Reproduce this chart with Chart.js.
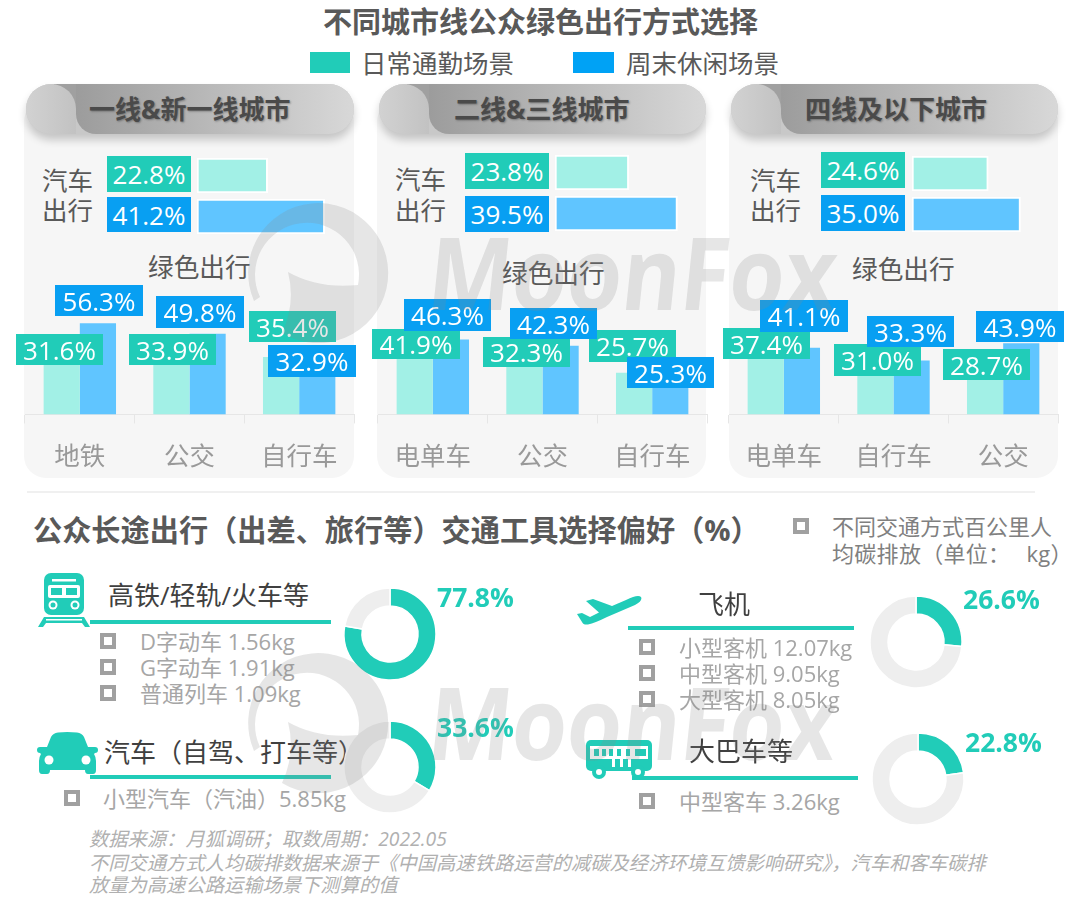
<!DOCTYPE html>
<html lang="zh">
<head>
<meta charset="utf-8">
<title>不同城市线公众绿色出行方式选择</title>
<script src="https://cdn.jsdelivr.net/npm/chart.js@4/dist/chart.umd.min.js"></script>
<style>
  html, body { margin: 0; padding: 0; background: #fff; }
  #page { position: relative; width: 1080px; height: 898px; overflow: hidden; background: #fff;
          font-family: 'Open Sans', 'Noto Sans CJK SC', sans-serif; }
  #page > * { position: absolute; }
  .t { white-space: nowrap; transform: translateY(-50%); line-height: 1.2; }
  .panel { background: #f6f6f6; border-radius: 22px; }
  .box { color: #fff; text-align: center; font-size: 26px; display: flex; align-items: center; justify-content: center; }
  .bullet { box-sizing: border-box; width: 16px; height: 16px; border: 4px solid #a0a0a0; transform: translateY(-50%); }
  .pill { overflow: hidden; border-radius: 25px; background: #c8c8c8; box-shadow: 0 6px 8px rgba(0,0,0,.2); }
  .pill div { position: absolute; }
  canvas { position: absolute; }
</style>
</head>
<body>
<div id="page"></div>
<script>
// ── DATA ──────────────────────────────────────────────────────────────────
const legendNames = ['日常通勤场景', '周末休闲场景'];
const cityTiers   = ['一线&新一线城市', '二线&三线城市', '四线及以下城市'];

const carCommute = [22.8, 23.8, 24.6];
const carWeekend = [41.2, 39.5, 35.0];

const greenCats1    = ['地铁', '公交', '自行车'];
const greenCommute1 = [31.6, 33.9, 35.4];
const greenWeekend1 = [56.3, 49.8, 32.9];

const greenCats2    = ['电单车', '公交', '自行车'];
const greenCommute2 = [41.9, 32.3, 25.7];
const greenWeekend2 = [46.3, 42.3, 25.3];

const greenCats3    = ['电单车', '自行车', '公交'];
const greenCommute3 = [37.4, 31.0, 28.7];
const greenWeekend3 = [41.1, 33.3, 43.9];

const longTripModes  = ['高铁/轻轨/火车等', '汽车（自驾、打车等）', '飞机', '大巴车等'];
const longTripShares = [77.8, 33.6, 26.6, 22.8];
const carbonTrain = ['D字动车 1.56kg', 'G字动车 1.91kg', '普通列车 1.09kg'];
const carbonCar   = ['小型汽车（汽油）5.85kg'];
const carbonPlane = ['小型客机 12.07kg', '中型客机 9.05kg', '大型客机 8.05kg'];
const carbonBus   = ['中型客车 3.26kg'];

// ── COLOURS ───────────────────────────────────────────────────────────────
const TEAL = '#21ccb8', BLUE = '#089ff2', TEAL_LIGHT = '#a2f0e6', BLUE_LIGHT = '#60c5ff', TRACK = '#eeeeee';

const page = document.getElementById('page');

function add(tag, cls, css, text) {
  const e = document.createElement(tag);
  if (cls) e.className = cls;
  e.style.cssText = css;
  if (text !== undefined) e.textContent = text;
  page.appendChild(e);
  return e;
}
function label(text, x, y, size, color, extra) {
  return add('div', 't', `left:${x}px;top:${y}px;font-size:${size}px;color:${color};${extra || ''}`, text);
}
function rect(x0, y0, x1, y1, color) {
  return add('div', '', `left:${x0}px;top:${y0}px;width:${x1 - x0}px;height:${y1 - y0}px;background:${color}`);
}
function valueBox(value, [x0, y0, x1, y1], color) {
  add('div', 'box', `left:${x0}px;top:${y0}px;width:${x1 - x0}px;height:${y1 - y0}px;background:${color}`, value.toFixed(1) + '%');
}
function bullet(x, y) { add('div', 'bullet', `left:${x}px;top:${y}px`); }
function canvasAt(x, y, w, h) {
  const c = document.createElement('canvas');
  c.width = w; c.height = h;
  c.style.cssText = `left:${x}px;top:${y}px;width:${w}px;height:${h}px`;
  page.appendChild(c);
  return c;
}

// ── HEADINGS ──────────────────────────────────────────────────────────────
label('不同城市线公众绿色出行方式选择', 323, 22, 29, '#595959', 'font-weight:700');
rect(310, 52, 350, 73, TEAL);
label(legendNames[0], 361, 63, 25.5, '#595959');
rect(573, 52, 614, 73, '#00a2f5');
label(legendNames[1], 626, 63, 25.5, '#595959');

// ── CITY PANELS ───────────────────────────────────────────────────────────
const PANELS = [
  { x: 24, w: 330, headTextX: 89, carX: 42, carY: [180, 210], greenX: 148, greenY: 268,
    barX: 199, barTop: 155, axisX: 25,
    boxes: { car: [[107,156,191,192],[107,197,191,232]],
             commute: [[16,334,103,365],[129,334,216,365],[249,311,336,342]],
             weekend: [[55,285,143,316],[156,296,244,328],[268,345,356,377]] } },
  { x: 377, w: 329, headTextX: 454, carX: 395, carY: [179, 210], greenX: 502, greenY: 274,
    barX: 557, barTop: 152, axisX: 378,
    boxes: { car: [[465,153,549,189],[465,196,549,232]],
             commute: [[372,329,460,359],[483,337,570,367],[589,330,676,362]],
             weekend: [[404,299,491,331],[510,308,597,339],[627,357,714,388]] } },
  { x: 729, w: 329, headTextX: 805, carX: 750, carY: [180, 210], greenX: 852, greenY: 270,
    barX: 914, barTop: 153, axisX: 729,
    boxes: { car: [[821,152,905,188],[821,195,905,231]],
             commute: [[723,328,810,359],[834,344,921,376],[943,349,1030,380]],
             weekend: [[760,300,848,332],[867,316,954,347],[976,311,1064,342]] } },
];
const GREEN = [
  [greenCats1, greenCommute1, greenWeekend1],
  [greenCats2, greenCommute2, greenWeekend2],
  [greenCats3, greenCommute3, greenWeekend3],
];

function renderCarChart(p, i) {
  new Chart(canvasAt(p.barX - 2, p.barTop, 155, 82), {
    type: 'bar',
    data: {
      labels: ['日常通勤', '周末休闲'],
      datasets: [{
        data: [carCommute[i], carWeekend[i]],
        backgroundColor: [TEAL_LIGHT, BLUE_LIGHT],
        borderColor: '#fff', borderWidth: 2, borderSkipped: false, barThickness: 35,
      }]
    },
    options: {
      indexAxis: 'y', responsive: false, animation: false,
      plugins: { legend: { display: false }, tooltip: { enabled: false } },
      scales: { x: { display: false, min: 0, max: 50 }, y: { display: false } }
    }
  });
}

function renderGreenChart(p, i) {
  const [cats, commute, weekend] = GREEN[i];
  new Chart(canvasAt(p.axisX - 6, 301, 341, 191), {
    type: 'bar',
    data: {
      labels: cats,
      datasets: [
        { data: commute, backgroundColor: TEAL_LIGHT },
        { data: weekend, backgroundColor: BLUE_LIGHT },
      ]
    },
    options: {
      responsive: false, animation: false,
      layout: { padding: { left: 6, right: 6 } },
      plugins: { legend: { display: false }, tooltip: { enabled: false } },
      datasets: { bar: { categoryPercentage: 0.66, barPercentage: 1 } },
      scales: {
        y: { display: false, min: 0, max: 70 },
        x: {
          border: { color: '#e6e6e6' },
          grid: { color: '#e6e6e6', drawOnChartArea: false, tickLength: 9, offset: true },
          ticks: { color: '#999', padding: 19, maxRotation: 0,
                   font: { size: 25.5, family: "'Open Sans','Noto Sans CJK SC',sans-serif" } },
        }
      }
    }
  });
}

PANELS.forEach((p, i) => {
  add('div', 'panel', `left:${p.x}px;top:100px;width:${p.w}px;height:378px`);

  // header pill with the folded cap on its left
  const pill = add('div', 'pill', `left:${p.x + 2}px;top:84px;width:${p.w - 2}px;height:50px`);
  pill.innerHTML =
    `<div style="left:28px;top:0;width:26px;height:26px;background:#a0a0a0"></div>` +
    `<div style="left:50px;top:0;right:0;bottom:0;border-radius:0 0 0 20px;background:linear-gradient(90deg,#9c9c9c,#d8d8d8)"></div>` +
    `<div style="left:0;top:0;width:50px;height:100%;border-radius:0 25px 0 0;background:linear-gradient(90deg,#d2d2d2,#c2c2c2)"></div>`;
  label(cityTiers[i], p.headTextX, 110, 26, '#4a4a4a', 'font-weight:700;text-shadow:1px 1px 2px rgba(0,0,0,.3)');

  label('汽车', p.carX, p.carY[0], 25.5, '#595959');
  label('出行', p.carX, p.carY[1], 25.5, '#595959');
  label('绿色出行', p.greenX, p.greenY, 25.7, '#595959');

  renderCarChart(p, i);
  renderGreenChart(p, i);

  valueBox(carCommute[i], p.boxes.car[0], TEAL);
  valueBox(carWeekend[i], p.boxes.car[1], BLUE);
  GREEN[i][1].forEach((v, k) => valueBox(v, p.boxes.commute[k], TEAL));
  GREEN[i][2].forEach((v, k) => valueBox(v, p.boxes.weekend[k], BLUE));
});

// ── LONG TRIP SECTION ─────────────────────────────────────────────────────
rect(27, 491, 1035, 493, '#f0f0f0');
label('公众长途出行（出差、旅行等）交通工具选择偏好（%）', 33, 531, 29.2, '#595959', 'font-weight:700');
bullet(793, 526);
label('不同交通方式百公里人', 832, 526, 22, '#808080');
label('均碳排放（单位： kg）', 832, 553, 22, '#808080', 'word-spacing:10px;letter-spacing:.3px');

const LONG_TRIP = [
  { textX: 108, textY: 596, size: 26, line: [90, 331, 622], bulletX: 100, itemX: 140, itemY: [641, 667, 693], items: carbonTrain,
    pctX: 437, pctY: 598, cx: 390, cy: 634 },
  { textX: 104, textY: 753, size: 26, line: [90, 331, 777], bulletX: 64, itemX: 103, itemY: [798], items: carbonCar,
    pctX: 437, pctY: 728, cx: 390, cy: 767 },
  { textX: 698, textY: 605, size: 26, line: [628, 854, 628], bulletX: 639, itemX: 679, itemY: [647, 673, 699], items: carbonPlane,
    pctX: 963, pctY: 600, cx: 916, cy: 642 },
  { textX: 689, textY: 752, size: 26, line: [632, 858, 778], bulletX: 639, itemX: 679, itemY: [801], items: carbonBus,
    pctX: 965, pctY: 743, cx: 918, cy: 779 },
];

function renderShareDonut(t, share) {
  new Chart(canvasAt(t.cx - 50, t.cy - 50, 100, 100), {
    type: 'doughnut',
    data: {
      labels: ['选择', '其他'],
      datasets: [{ data: [share, 100 - share], backgroundColor: [TEAL, TRACK], borderColor: '#fff', borderWidth: 1.5 }]
    },
    options: {
      responsive: false, animation: false,
      radius: 46, cutout: 30,
      plugins: { legend: { display: false }, tooltip: { enabled: false } },
    }
  });
}

LONG_TRIP.forEach((t, i) => {
  label(longTripModes[i], t.textX, t.textY, t.size, '#404040');
  rect(t.line[0], t.line[2] - 2, t.line[1], t.line[2] + 2, TEAL);
  t.items.forEach((s, k) => {
    bullet(t.bulletX, t.itemY[k]);
    label(s, t.itemX, t.itemY[k], 22, '#a6a6a6');
  });
  renderShareDonut(t, longTripShares[i]);
  label(longTripShares[i].toFixed(1) + '%', t.pctX, t.pctY, 26.5, TEAL, 'font-weight:700');
});

// ── ICONS ─────────────────────────────────────────────────────────────────
function icon(x, y, w, h, viewBox, body) {
  const e = add('div', '', `left:${x}px;top:${y}px;width:${w}px;height:${h}px`);
  e.innerHTML = `<svg xmlns="http://www.w3.org/2000/svg" width="${w}" height="${h}" viewBox="${viewBox}" fill="${TEAL}">${body}</svg>`;
}
icon(38, 573, 52, 54, '0 0 52 54',
  `<rect x="6" y="0" width="40" height="42" rx="7"/>
   <rect x="14" y="6" width="24" height="2.5" fill="#fff"/>
   <rect x="10" y="12" width="32" height="13" rx="2" fill="#fff"/>
   <rect x="13" y="15" width="11" height="7"/><rect x="28" y="15" width="11" height="7"/>
   <circle cx="15" cy="32" r="4.5" fill="#fff"/><circle cx="37" cy="32" r="4.5" fill="#fff"/>
   <circle cx="15" cy="32" r="2.5"/><circle cx="37" cy="32" r="2.5"/>
   <path d="M6 44h40l6 10h-5l-3-4H8l-3 4H0z"/><rect x="8" y="46" width="36" height="1.5" fill="#fff"/>`);
icon(36, 732, 63, 45, '0 0 63 45',
  `<path d="M4 15h7l4-10Q17 1 22 0.5Q31 -0.5 41 0.5Q46 1 48 5l4 10h7q3 0 3 3t-3 3l-1 1q2 3 2 7v9q0 4-3 4h-5q-3 0-3-4H14q0 4-3 4H6q-3 0-3-4v-9q0-4 2-7l-1-1q-3 0-3-3t3-3z"/>
   <circle cx="13" cy="28" r="4.5" fill="#fff"/><circle cx="50" cy="28" r="4.5" fill="#fff"/>`);
icon(577, 593, 65, 32, '0 0 65 32',
  `<path d="M64 4q2 4-6 8L30 24q-12 6-19 7.5Q6 32 5 29L0 21l5-1 8 4 9-4.5L9 8l7-2 19 7 14-6Q61 1 64 4z"/>`);
icon(586, 740, 67, 39, '0 0 67 39',
  `<rect x="0" y="0" width="66" height="31" rx="5"/>
   <rect x="4" y="6" width="58" height="13" fill="#fff"/>
   <rect x="8" y="9" width="5" height="7"/><rect x="16" y="9" width="4" height="7"/><rect x="23" y="9" width="4" height="7"/>
   <rect x="31" y="9" width="4" height="7"/><rect x="40" y="9" width="4" height="7"/><rect x="49" y="9" width="11" height="7"/>
   <rect x="26" y="19" width="3" height="8" fill="#fff"/><rect x="34" y="19" width="3" height="8" fill="#fff"/><rect x="42" y="19" width="3" height="8" fill="#fff"/>
   <circle cx="13" cy="32" r="7"/><circle cx="52" cy="32" r="7"/>
   <circle cx="13" cy="32" r="3" fill="#fff"/><circle cx="52" cy="32" r="3" fill="#fff"/>`);

// ── SOURCE NOTE ───────────────────────────────────────────────────────────
const NOTE = 'font-style:italic';
label('数据来源：月狐调研；取数周期：2022.05', 89, 839, 19.3, '#b0b0b0', NOTE);
label('不同交通方式人均碳排数据来源于《中国高速铁路运营的减碳及经济环境互馈影响研究》，汽车和客车碳排', 89, 863, 19.3, '#b0b0b0', NOTE);
label('放量为高速公路运输场景下测算的值', 89, 885, 19.3, '#b0b0b0', NOTE);

// ── WATERMARK ─────────────────────────────────────────────────────────────
[273, 723].forEach(cy => {
  const e = add('div', '', 'left:0;top:0;width:1080px;height:898px;pointer-events:none;z-index:5');
  e.innerHTML = `<svg xmlns="http://www.w3.org/2000/svg" width="1080" height="898" fill="#888" fill-opacity=".21">
    <path transform="translate(318 ${cy})" d="M-64 28A70 70 0 1 1-36 60Q-22 30-30-1Q0 16 40 12A52 52 0 1 0-58 24Z"/>
    <text transform="translate(425 ${cy + 37}) skewX(-6)" font-family="'Open Sans'" font-weight="700" font-size="101" textLength="408" lengthAdjust="spacingAndGlyphs">MoonFox</text>
  </svg>`;
});
</script>
</body>
</html>
